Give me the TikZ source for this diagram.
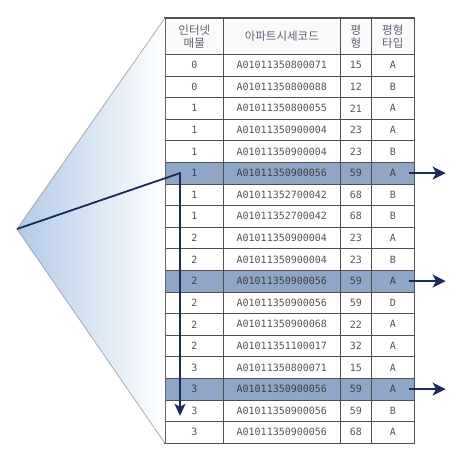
\documentclass[tikz,border=0pt]{standalone}
\usepackage{fontspec}
\setmonofont{DejaVu Sans Mono}
\newfontfamily\hangul{Noto Sans CJK KR}
\usetikzlibrary{arrows.meta}
\definecolor{markblue}{RGB}{143,166,199}
\definecolor{navyline}{RGB}{28,42,88}
\definecolor{gridgray}{RGB}{80,80,80}
\definecolor{inkgray}{RGB}{85,85,85}
\definecolor{headgray}{RGB}{95,100,115}
\definecolor{fanblue}{RGB}{178,202,232}
\begin{document}
\begin{tikzpicture}
[x=1pt,y=-1pt,
  cell/.style={draw=gridgray,line width=0.6pt,inner sep=0pt,anchor=north west,
    minimum height=21.6pt,text=inkgray,font=\ttfamily\fontsize{10}{10}\selectfont},
  headcell/.style={cell,minimum height=36pt,fill=gray!4,align=center,text=headgray,
    font=\hangul\fontsize{11.5}{13}\selectfont},
  rowplain/.style={fill=white},
  rowmark/.style={fill=markblue,text=black!75},
  fanedge/.style={draw=gray!80,line width=0.6pt},
  trackline/.style={draw=navyline,line width=1.8pt,-{Stealth[length=12pt,width=11pt,inset=3pt]}},
  pointer/.style={draw=navyline,line width=1.8pt,-{Stealth[length=13pt,width=13pt,inset=3.5pt]}}]
\fill[white] (0,0) rectangle (473,455);
\useasboundingbox (0,0) rectangle (473,455);
%% header
\foreach \colname/\x/\w/\txt in {1/165/58/{인터넷\\매물}, 2/223/117/{아파트시세코드},
  3/340/31/{평\\형}, 4/371/43/{평형\\타입}} {
  \node (h-\colname) at (\x,18) [headcell,minimum width=\w pt] {\txt};
}
%% rows
\foreach \hh/\code/\size/\kind/\look [count=\r] in {
  0/A01011350800071/15/A/rowplain, 0/A01011350800088/12/B/rowplain,
  1/A01011350800055/21/A/rowplain, 1/A01011350900004/23/A/rowplain,
  1/A01011350900004/23/B/rowplain, 1/A01011350900056/59/A/rowmark,
  1/A01011352700042/68/B/rowplain, 1/A01011352700042/68/B/rowplain,
  2/A01011350900004/23/A/rowplain, 2/A01011350900004/23/B/rowplain,
  2/A01011350900056/59/A/rowmark, 2/A01011350900056/59/D/rowplain,
  2/A01011350900068/22/A/rowplain, 2/A01011351100017/32/A/rowplain,
  3/A01011350800071/15/A/rowplain, 3/A01011350900056/59/A/rowmark,
  3/A01011350900056/59/B/rowplain, 3/A01011350900056/68/A/rowplain} {
  \pgfmathsetmacro\rowtop{54+(\r-1)*21.6}
  \node (c-\r-1) at (165,\rowtop) [cell,\look,minimum width=58pt] {\hh};
  \node (c-\r-2) at (223,\rowtop) [cell,\look,minimum width=117pt] {\code};
  \node (c-\r-3) at (340,\rowtop) [cell,\look,minimum width=31pt] {\size};
  \node (c-\r-4) at (371,\rowtop) [cell,\look,minimum width=43pt] {\kind};
}
\draw[gridgray,line width=1.1pt] (h-1.north west) rectangle (c-18-4.south east);
\draw[gridgray,line width=1pt] (h-1.south west) -- (h-4.south east);
%% fan
\coordinate (apex) at (17,229);
\shade[left color=fanblue,right color=white] (apex) -- (h-1.north west)
  -- (c-18-1.south west) -- cycle;
\draw[fanedge] (h-1.north west) -- (apex) -- (c-18-1.south west);
%% arrows
\coordinate (turn) at ([xshift=15pt]c-6-1.west);
\coordinate (stop) at ([xshift=15pt,yshift=6pt]c-17-1.south west);
\draw[trackline] (apex) -- (turn) -- (stop);
\foreach \r in {6,11,16} {
  \coordinate (out-\r) at ([xshift=31pt]c-\r-4.east);
  \draw[pointer] ([xshift=-6pt]c-\r-4.east) -- (out-\r);
}
\end{tikzpicture}
\end{document}
